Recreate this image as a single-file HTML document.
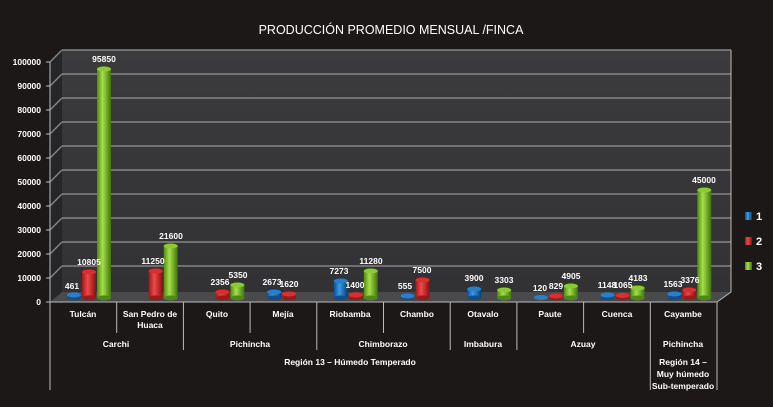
<!DOCTYPE html>
<html><head><meta charset="utf-8"><style>
body{margin:0;background:#1c1818;}
svg{display:block;font-family:"Liberation Sans",sans-serif;}
.l{fill:#fff;font-size:8.5px;font-weight:bold;text-anchor:middle;}
.y{fill:#fff;font-size:8.5px;font-weight:bold;text-anchor:end;}
.c{fill:#fff;font-size:8.5px;font-weight:bold;text-anchor:middle;}
</style></head><body>
<svg width="773" height="407" viewBox="0 0 773 407">
<defs>
<linearGradient id="gb" x1="0" x2="1"><stop offset="0" stop-color="#0d4f8f"/><stop offset=".4" stop-color="#3a9be8"/><stop offset="1" stop-color="#0a3d70"/></linearGradient>
<linearGradient id="gr" x1="0" x2="1"><stop offset="0" stop-color="#a01818"/><stop offset=".4" stop-color="#f04848"/><stop offset="1" stop-color="#8a1010"/></linearGradient>
<linearGradient id="gg" x1="0" x2="1"><stop offset="0" stop-color="#4d8a10"/><stop offset=".4" stop-color="#a6e04a"/><stop offset="1" stop-color="#3f740a"/></linearGradient>
<linearGradient id="wall" x1="0" y1="0" x2="0" y2="1"><stop offset="0" stop-color="#3b3b3d"/><stop offset="1" stop-color="#323234"/></linearGradient>
</defs>
<rect width="773" height="407" fill="#1c1818"/>
<text x="391" y="34" fill="#fff" font-size="12.5" text-anchor="middle">PRODUCCIÓN PROMEDIO MENSUAL /FINCA</text>
<rect x="62" y="50" width="669" height="242" fill="url(#wall)"/>
<polygon points="50,62 62,50 62,292 50,302" fill="#262628"/>
<polygon points="50,302 717,302 731,292 62,292" fill="#4a4a4c"/>
<g stroke="#858585" stroke-width="1.4" fill="none">
<path d="M62,50H731M62,74H731M62,98H731M62,122H731M62,146H731M62,170H731M62,194H731M62,218H731M62,242H731M62,266H731"/>
<path d="M50,62L62,50M50,86L62,74M50,110L62,98M50,134L62,122M50,158L62,146M50,182L62,170M50,206L62,194M50,230L62,218M50,254L62,242M50,278L62,266"/>
</g>
<g stroke="#bbb" stroke-width="1" fill="none">
<path d="M50,62V390M46,62H50M46,86H50M46,110H50M46,134H50M46,158H50M46,182H50M46,206H50M46,230H50M46,254H50M46,278H50M46,302H50"/>
<path d="M50,302H717"/>
<path d="M116.7,302V333M250.1,302V333M383.5,302V333M583.6,302V333"/>
<path d="M183.4,302V350M316.8,302V350M450.2,302V350M516.9,302V350M650.3,302V390M717,302V390"/>
<path d="M717,302L731,292V50"/>
</g>
<g class="y">
<text x="41" y="65">100000</text><text x="41" y="89">90000</text><text x="41" y="113">80000</text><text x="41" y="137">70000</text><text x="41" y="161">60000</text><text x="41" y="185">50000</text><text x="41" y="209">40000</text><text x="41" y="233">30000</text><text x="41" y="257">20000</text><text x="41" y="281">10000</text><text x="41" y="305">0</text>
</g>
<g>
<rect x="67" y="295" width="14" height="3" fill="url(#gb)"/><ellipse cx="74" cy="298" rx="7" ry="2.5" fill="#0d4f8f"/><ellipse cx="74" cy="295" rx="7" ry="2.5" fill="#2a7fc8"/>
<rect x="82" y="272" width="14" height="26" fill="url(#gr)"/><ellipse cx="89" cy="298" rx="7" ry="2.5" fill="#a01818"/><ellipse cx="89" cy="272" rx="7" ry="2.5" fill="#d83030"/>
<rect x="97" y="69" width="14" height="229" fill="url(#gg)"/><ellipse cx="104" cy="298" rx="7" ry="2.5" fill="#4d8a10"/><ellipse cx="104" cy="69" rx="7" ry="2.5" fill="#8cc838"/>
<rect x="148.7" y="271" width="14" height="27" fill="url(#gr)"/><ellipse cx="155.7" cy="298" rx="7" ry="2.5" fill="#a01818"/><ellipse cx="155.7" cy="271" rx="7" ry="2.5" fill="#d83030"/>
<rect x="163.7" y="246" width="14" height="52" fill="url(#gg)"/><ellipse cx="170.7" cy="298" rx="7" ry="2.5" fill="#4d8a10"/><ellipse cx="170.7" cy="246" rx="7" ry="2.5" fill="#8cc838"/>
<rect x="215.4" y="292" width="14" height="6" fill="url(#gr)"/><ellipse cx="222.4" cy="298" rx="7" ry="2.5" fill="#a01818"/><ellipse cx="222.4" cy="292" rx="7" ry="2.5" fill="#d83030"/>
<rect x="230.4" y="285" width="14" height="13" fill="url(#gg)"/><ellipse cx="237.4" cy="298" rx="7" ry="2.5" fill="#4d8a10"/><ellipse cx="237.4" cy="285" rx="7" ry="2.5" fill="#8cc838"/>
<rect x="267.1" y="292" width="14" height="6" fill="url(#gb)"/><ellipse cx="274.1" cy="298" rx="7" ry="2.5" fill="#0d4f8f"/><ellipse cx="274.1" cy="292" rx="7" ry="2.5" fill="#2a7fc8"/>
<rect x="282.1" y="294" width="14" height="4" fill="url(#gr)"/><ellipse cx="289.1" cy="298" rx="7" ry="2.5" fill="#a01818"/><ellipse cx="289.1" cy="294" rx="7" ry="2.5" fill="#d83030"/>
<rect x="333.8" y="281" width="14" height="17" fill="url(#gb)"/><ellipse cx="340.8" cy="298" rx="7" ry="2.5" fill="#0d4f8f"/><ellipse cx="340.8" cy="281" rx="7" ry="2.5" fill="#2a7fc8"/>
<rect x="348.8" y="295" width="14" height="3" fill="url(#gr)"/><ellipse cx="355.8" cy="298" rx="7" ry="2.5" fill="#a01818"/><ellipse cx="355.8" cy="295" rx="7" ry="2.5" fill="#d83030"/>
<rect x="363.8" y="271" width="14" height="27" fill="url(#gg)"/><ellipse cx="370.8" cy="298" rx="7" ry="2.5" fill="#4d8a10"/><ellipse cx="370.8" cy="271" rx="7" ry="2.5" fill="#8cc838"/>
<rect x="400.5" y="296" width="14" height="2" fill="url(#gb)"/><ellipse cx="407.5" cy="298" rx="7" ry="2.5" fill="#0d4f8f"/><ellipse cx="407.5" cy="296" rx="7" ry="2.5" fill="#2a7fc8"/>
<rect x="415.5" y="280" width="14" height="18" fill="url(#gr)"/><ellipse cx="422.5" cy="298" rx="7" ry="2.5" fill="#a01818"/><ellipse cx="422.5" cy="280" rx="7" ry="2.5" fill="#d83030"/>
<rect x="467.2" y="289" width="14" height="9" fill="url(#gb)"/><ellipse cx="474.2" cy="298" rx="7" ry="2.5" fill="#0d4f8f"/><ellipse cx="474.2" cy="289" rx="7" ry="2.5" fill="#2a7fc8"/>
<rect x="497.2" y="290" width="14" height="8" fill="url(#gg)"/><ellipse cx="504.2" cy="298" rx="7" ry="2.5" fill="#4d8a10"/><ellipse cx="504.2" cy="290" rx="7" ry="2.5" fill="#8cc838"/>
<ellipse cx="540.9" cy="297.5" rx="7" ry="2.5" fill="#2a7fc8"/>
<rect x="548.9" y="296" width="14" height="2" fill="url(#gr)"/><ellipse cx="555.9" cy="298" rx="7" ry="2.5" fill="#a01818"/><ellipse cx="555.9" cy="296" rx="7" ry="2.5" fill="#d83030"/>
<rect x="563.9" y="286" width="14" height="12" fill="url(#gg)"/><ellipse cx="570.9" cy="298" rx="7" ry="2.5" fill="#4d8a10"/><ellipse cx="570.9" cy="286" rx="7" ry="2.5" fill="#8cc838"/>
<rect x="600.6" y="295" width="14" height="3" fill="url(#gb)"/><ellipse cx="607.6" cy="298" rx="7" ry="2.5" fill="#0d4f8f"/><ellipse cx="607.6" cy="295" rx="7" ry="2.5" fill="#2a7fc8"/>
<rect x="615.6" y="295.5" width="14" height="2.5" fill="url(#gr)"/><ellipse cx="622.6" cy="298" rx="7" ry="2.5" fill="#a01818"/><ellipse cx="622.6" cy="295.5" rx="7" ry="2.5" fill="#d83030"/>
<rect x="630.6" y="288" width="14" height="10" fill="url(#gg)"/><ellipse cx="637.6" cy="298" rx="7" ry="2.5" fill="#4d8a10"/><ellipse cx="637.6" cy="288" rx="7" ry="2.5" fill="#8cc838"/>
<rect x="667.3" y="294" width="14" height="4" fill="url(#gb)"/><ellipse cx="674.3" cy="298" rx="7" ry="2.5" fill="#0d4f8f"/><ellipse cx="674.3" cy="294" rx="7" ry="2.5" fill="#2a7fc8"/>
<rect x="682.3" y="290" width="14" height="8" fill="url(#gr)"/><ellipse cx="689.3" cy="298" rx="7" ry="2.5" fill="#a01818"/><ellipse cx="689.3" cy="290" rx="7" ry="2.5" fill="#d83030"/>
<rect x="697.3" y="190" width="14" height="108" fill="url(#gg)"/><ellipse cx="704.3" cy="298" rx="7" ry="2.5" fill="#4d8a10"/><ellipse cx="704.3" cy="190" rx="7" ry="2.5" fill="#8cc838"/>
</g>
<g class="l">
<text x="72" y="289">461</text><text x="89" y="265">10805</text><text x="104" y="62">95850</text>
<text x="153" y="264">11250</text><text x="171" y="239">21600</text>
<text x="220" y="285">2356</text><text x="238" y="278">5350</text>
<text x="272" y="285">2673</text><text x="289" y="287">1620</text>
<text x="339" y="274">7273</text><text x="355" y="288">1400</text><text x="371" y="264">11280</text>
<text x="405" y="289">555</text><text x="422" y="273">7500</text>
<text x="474" y="281">3900</text><text x="504" y="283">3303</text>
<text x="540" y="291">120</text><text x="556" y="289">829</text><text x="571" y="279">4905</text>
<text x="607" y="288">1148</text><text x="623" y="288">1065</text><text x="638" y="281">4183</text>
<text x="673" y="287">1563</text><text x="690" y="283">3376</text><text x="704" y="183">45000</text>
</g>
<g class="c">
<text x="83" y="317">Tulcán</text><text x="150" y="317">San Pedro de</text><text x="150" y="328">Huaca</text>
<text x="217" y="317">Quito</text><text x="283" y="317">Mejía</text><text x="350" y="317">Riobamba</text><text x="417" y="317">Chambo</text>
<text x="483" y="317">Otavalo</text><text x="550" y="317">Paute</text><text x="617" y="317">Cuenca</text><text x="683" y="317">Cayambe</text>
<text x="116" y="347">Carchi</text><text x="250" y="347">Pichincha</text><text x="383" y="347">Chimborazo</text>
<text x="483" y="347">Imbabura</text><text x="583" y="347">Azuay</text><text x="683" y="347">Pichincha</text>
<text x="350" y="365">Región 13 – Húmedo Temperado</text>
<text x="683" y="365">Región 14 –</text><text x="683" y="377">Muy húmedo</text><text x="683" y="389">Sub-temperado</text>
</g>
<rect x="745" y="212" width="7" height="8" fill="url(#gb)"/><text x="756" y="220" fill="#fff" font-size="11" font-weight="bold">1</text>
<rect x="745" y="237" width="7" height="8" fill="url(#gr)"/><text x="756" y="245" fill="#fff" font-size="11" font-weight="bold">2</text>
<rect x="745" y="262" width="7" height="8" fill="url(#gg)"/><text x="756" y="270" fill="#fff" font-size="11" font-weight="bold">3</text>
</svg>
</body></html>
